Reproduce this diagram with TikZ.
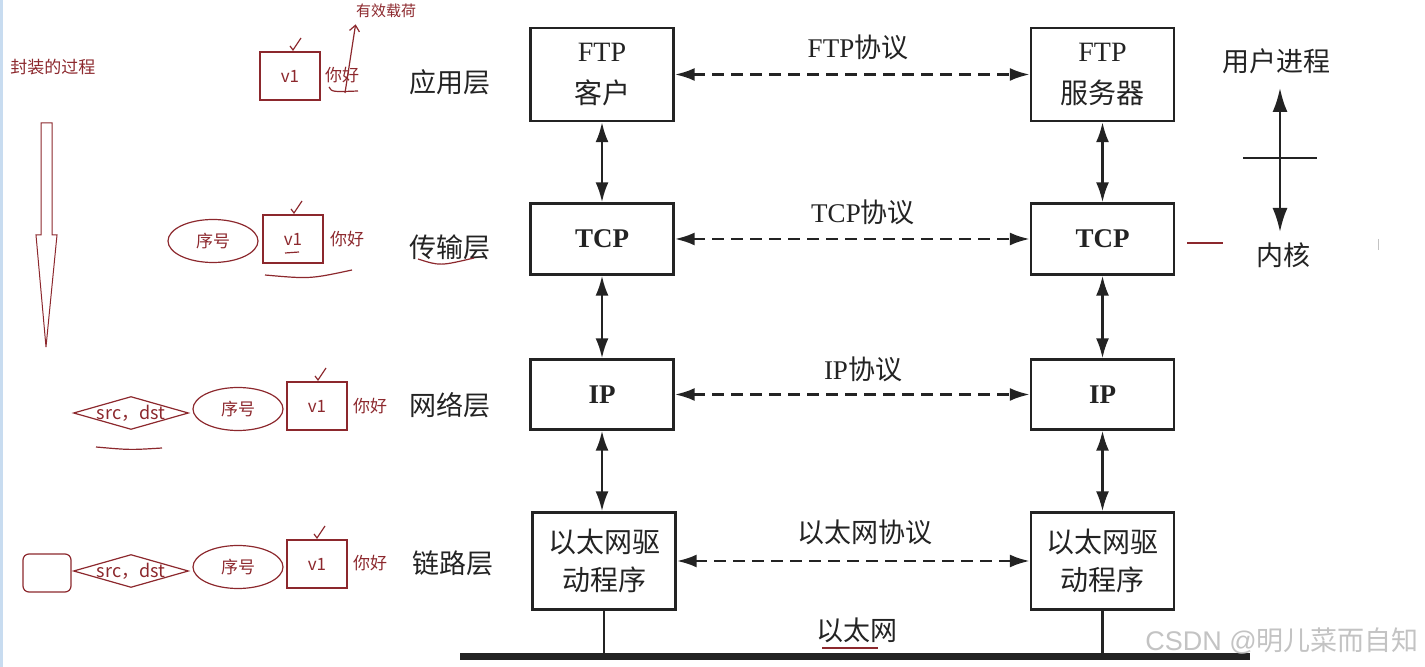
\documentclass[tikz,border=0pt]{standalone}
\usepackage{fontspec}
\setmainfont{Liberation Serif}
\newfontfamily\cjk{Noto Sans CJK SC}
\newfontfamily\wmsans{Liberation Sans}
\usetikzlibrary{arrows.meta,shapes.geometric}
\definecolor{ink}{RGB}{35,35,35}
\definecolor{penred}{RGB}{140,40,45}
\definecolor{wmgray}{RGB}{195,195,195}
\definecolor{edgeblue}{RGB}{200,220,240}
\tikzset{
  layerbox/.style={draw=ink, line width=1.2pt, minimum width=71.5pt, align=center, inner sep=0pt, text=ink},
  boxtxt/.style={font=\fontsize{14pt}{21pt}\selectfont},
  boxzh/.style={font=\cjk\fontsize{14pt}{19pt}\selectfont},
  boxbold/.style={font=\bfseries\fontsize{13.5pt}{16pt}\selectfont},
  lbl/.style={text=ink, font=\cjk\fontsize{13.5pt}{16pt}\selectfont, inner sep=1pt},
  proto/.style={text=ink, font=\fontsize{13.5pt}{16pt}\selectfont, inner sep=1pt},
  varrow/.style={draw=ink, line width=1.2pt, arrows={Latex[length=10pt,width=6.5pt]-Latex[length=10pt,width=6.5pt]}},
  harrow/.style={varrow, line width=1.4pt, dash pattern=on 6pt off 3.5pt},
  bigarrow/.style={draw=ink, line width=1.2pt, arrows={Latex[length=12pt,width=7.5pt]-Latex[length=12pt,width=7.5pt]}},
  penline/.style={draw=penred, line width=0.6pt},
  ptext/.style={text=penred, font=\cjk\fontsize{8.5pt}{10pt}\selectfont, inner sep=1pt},
  pbox/.style={penline, minimum width=30pt, minimum height=24pt, inner sep=0pt, text=penred, font=\cjk\fontsize{8.5pt}{10pt}\selectfont},
  pell/.style={penline, ellipse, minimum width=45pt, minimum height=21.5pt, inner sep=0pt, text=penred, font=\cjk\fontsize{8.5pt}{10pt}\selectfont},
  pdia/.style={penline, diamond, minimum width=57.5pt, minimum height=16.5pt, inner sep=0pt},
  prect/.style={penline, rounded corners=3pt, minimum width=24pt, minimum height=19pt, inner sep=0pt},
  chk/.pic={\draw[penline] (-3,-4) -- (0,0) -- (8,-12);}
}
\begin{document}
\begin{tikzpicture}[x=0.5pt,y=-0.5pt]
\useasboundingbox (0,0) rectangle (1425,667);
\fill[edgeblue] (0,0) rectangle (3,667);

% ---------- main diagram: boxes ----------
\node[layerbox, boxtxt, minimum height=46.5pt] (ftpc) at (602,74.5) {FTP\\{\cjk 客户}};
\node[layerbox, boxbold, minimum height=35.5pt] (tcpc) at (602,239) {TCP};
\node[layerbox, boxbold, minimum height=35pt] (ipc) at (602,394.5) {IP};
\node[layerbox, boxzh, minimum height=48.5pt] (ethc) at (604,561) {以太网驱\\动程序};

\node[layerbox, boxtxt, minimum height=46.5pt] (ftps) at (1102.5,74.5) {FTP\\{\cjk 服务器}};
\node[layerbox, boxbold, minimum height=35.5pt] (tcps) at (1102.5,239) {TCP};
\node[layerbox, boxbold, minimum height=35pt] (ips) at (1102.5,394.5) {IP};
\node[layerbox, boxzh, minimum height=48.5pt] (eths) at (1102.5,561) {以太网驱\\动程序};

% vertical arrows
\draw[varrow] (ftpc.south) -- (tcpc.north);
\draw[varrow] (tcpc.south) -- (ipc.north);
\draw[varrow] (ipc.south) -- (ipc.south |- ethc.north);
\draw[varrow] (ftps.south) -- (tcps.north);
\draw[varrow] (tcps.south) -- (ips.north);
\draw[varrow] (ips.south) -- (eths.north);

% horizontal dashed arrows
\draw[harrow] (ftpc.east) -- (ftps.west);
\draw[harrow] (tcpc.east) -- (tcps.west);
\draw[harrow] (ipc.east) -- (ips.west);
\draw[harrow] (ethc.east) -- (eths.west);

\node[proto] (pftp) at (858,47) {FTP{\cjk 协议}};
\node[proto] (ptcp) at (863,212) {TCP{\cjk 协议}};
\node[proto] (pip) at (863,369) {IP{\cjk 协议}};
\node[lbl] (peth) at (865,532) {以太网协议};

% layer names
\node[lbl] (lapp) at (450,82) {应用层};
\node[lbl] (ltra) at (450,247) {传输层};
\node[lbl] (lnet) at (450,405) {网络层};
\node[lbl] (llnk) at (453,563) {链路层};

% ethernet bus
\coordinate (busL) at (460,657);
\coordinate (busR) at (1250,657);
\draw[ink, line width=3.5pt] (busL) -- (busR);
\draw[ink, line width=1.1pt] (ethc.south) -- (ethc.south |- busL);
\draw[ink, line width=1.1pt] (eths.south) -- (eths.south |- busL);
\node[lbl] (ether) at (857,630) {以太网};
\draw[penline] (822,648) -- (878,648);

% user / kernel
\node[lbl] (user) at (1276,61) {用户进程};
\node[lbl] (kern) at (1283,255) {内核};
\coordinate (ukTop) at (1280,88);
\coordinate (ukBot) at (1280,232);
\draw[bigarrow] (ukTop) -- (ukBot);
\coordinate (tickL) at (1243,158);
\coordinate (tickR) at (1317,158);
\draw[ink, line width=1.1pt] (tickL) -- (tickR);
\draw[penline] (1187,243) -- (1223,243);
\draw[wmgray, line width=0.5pt] (1378,239) -- (1378,250);

% watermark
\node[text=wmgray, font=\wmsans\fontsize{13.5pt}{16pt}\selectfont, inner sep=0pt] (csdn) at (1282,641) {CSDN @{\cjk 明儿菜而自知}};

% ---------- hand annotations ----------
\node[ptext] (title) at (53,67) {封装的过程};
\draw[penline, line width=0.5pt] (41,123) -- (52,123) -- (52,235) -- (57,235) -- (46,347) -- (36,235) -- (41,235) -- cycle;

% row 1
\node[pbox] (v1a) at (290,76) {v1};
\node[ptext] (nh1) at (342,75) {你好};
\pic at (293,50) {chk};
\node[ptext, font=\cjk\fontsize{7.5pt}{9pt}\selectfont] (payload) at (386,11) {有效载荷};
\coordinate (pstart) at (345,93);
\draw[penline, arrows={-Straight Barb[length=3pt,width=5pt]}] (pstart) .. controls (350,60) .. ([xshift=1pt,yshift=-2pt]payload.south west);
\draw[penline] (329,87) .. controls (332,92) .. (358,91);

% row 2
\node[pell] (seq2) at (213,241) {序号};
\node[pbox] (v1b) at (293,239) {v1};
\node[ptext] (nh2) at (347,239) {你好};
\pic at (294,213) {chk};
\draw[penline] (285,253) -- (299,252);
\draw[penline] (265,275) .. controls (310,279) .. (352,270);
\draw[penline] (418,259) .. controls (440,266) .. (474,258);

% row 3
\node[pdia] (d3) at (131,413) {};
\node[ptext, font=\cjk\fontsize{9pt}{10pt}\selectfont] (t3) at (d3) {src，dst};
\node[pell] (seq3) at (238,409) {序号};
\node[pbox] (v1c) at (317,406) {v1};
\node[ptext] (nh3) at (370,406) {你好};
\pic at (318,380) {chk};
\draw[penline] (96,447) .. controls (130,450) .. (162,448);

% row 4
\node[prect] (hdr) at (47,573) {};
\node[pdia] (d4) at (131,571) {};
\node[ptext, font=\cjk\fontsize{9pt}{10pt}\selectfont] (t4) at (d4) {src，dst};
\node[pell] (seq4) at (238,567) {序号};
\node[pbox] (v1d) at (317,564) {v1};
\node[ptext] (nh4) at (370,563) {你好};
\pic at (317,538) {chk};
\end{tikzpicture}
\end{document}
